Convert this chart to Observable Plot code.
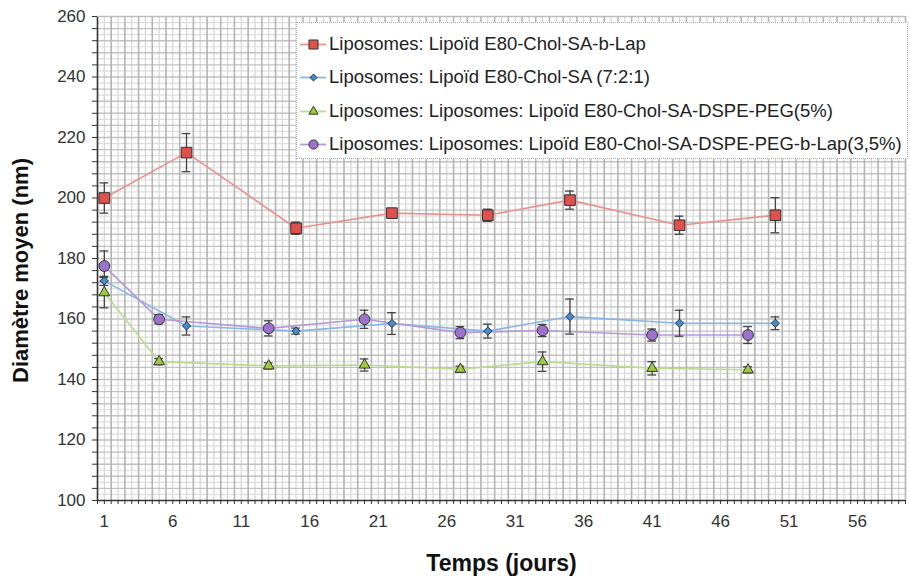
<!DOCTYPE html>
<html>
<head>
<meta charset="utf-8">
<script src="https://cdn.jsdelivr.net/npm/d3@7"></script>
<script src="https://cdn.jsdelivr.net/npm/@observablehq/plot@0.6"></script>
<style>
  body { margin: 0; background: #fff; }
  #wrap { position: relative; width: 909px; height: 580px; font-family: "Liberation Sans", Arial, sans-serif; }
  #wrap svg { font-family: "Liberation Sans", Arial, sans-serif; }
  g[aria-label="x-axis label"] text { font-weight: bold; font-size: 23px; fill: #111; font-family: "Liberation Sans Narrow", "Liberation Sans", Arial, sans-serif; }
  #legend { position: absolute; left: 296px; top: 22px; width: 612px; height: 137px; background: #fff;
            border: 1px dotted #aaa; box-sizing: border-box; padding-top: 4px; }
  .item { display: flex; align-items: center; height: 33.5px; font-size: 18.5px; color: #222; white-space: nowrap; }
  .item svg { margin-left: 3px; margin-right: 3px; }
</style>
</head>
<body>
<div id="wrap"><div id="legend"></div></div>
<script>
// ---- data ----
const joursA = [1, 7, 15, 22, 29, 35, 43, 50];
const joursB = [1, 5, 13, 20, 27, 33, 41, 48];

const redValues = [200, 215, 190, 195, 194.3, 199.3, 191, 194.3];
const redErr    = [5, 6.3, 2, 1, 2, 3, 3, 5.8];
const blueValues = [172.6, 157.7, 156, 158.5, 156, 160.8, 158.6, 158.6];
const blueErr    = [1.5, 3, 1, 3.6, 2.3, 5.8, 4.3, 2.1];
const greenValues = [168.7, 145.9, 144.5, 144.8, 143.4, 145.9, 143.7, 143.2];
const greenErr    = [5, 1, 1, 2, 1, 3.2, 2.2, 1];
const purpleValues = [177.5, 159.9, 156.9, 159.9, 155.5, 156.2, 154.7, 154.7];
const purpleErr    = [5, 1.5, 2.5, 3, 2, 2, 2, 2.8];

const seriesNames = [
  "Liposomes: Lipoïd E80-Chol-SA-b-Lap",
  "Liposomes: Lipoïd E80-Chol-SA (7:2:1)",
  "Liposomes: Liposomes: Lipoïd E80-Chol-SA-DSPE-PEG(5%)",
  "Liposomes: Liposomes: Lipoïd E80-Chol-SA-DSPE-PEG-b-Lap(3,5%)"
];

const xTickLabels = [1, 6, 11, 16, 21, 26, 31, 36, 41, 46, 51, 56];
const yTickLabels = [100, 120, 140, 160, 180, 200, 220, 240, 260];
const xTitle = "Temps (jours)";
const yTitle = "Diamètre moyen (nm)";

// ---- styles ----
const styles = [
  {fill: "#e0504c", line: "#e8918e", symbol: "square", r: 6.0},
  {fill: "#3f8fd8", line: "#86b6e6", symbol: "diamond2", r: 3.7},
  {fill: "#9dcc3a", line: "#bcdb8c", symbol: "triangle", r: 4.0},
  {fill: "#9c72cc", line: "#b59ad8", symbol: "circle", r: 5.4}
];

const seriesData = [
  {jours: joursA, values: redValues, errs: redErr},
  {jours: joursA, values: blueValues, errs: blueErr},
  {jours: joursB, values: greenValues, errs: greenErr},
  {jours: joursB, values: purpleValues, errs: purpleErr}
].map((s, i) => s.jours.map((j, k) => ({serie: seriesNames[i], x: j, y: s.values[k], e: s.errs[k]})));

// grid / tick positions
const xMajorGrid = d3.range(1.5, 60, 1);
const xMinorGrid = d3.range(1, 60, 1);
const xSmallTicks = d3.range(0.5, 59.6, 0.5);
const yMajorGrid = d3.range(104, 261, 4);
const yMinorGrid = d3.range(102, 260, 4);
const yMinorTicks = d3.range(100, 261, 4);

const marks = [
  Plot.gridX({ticks: xMinorGrid, stroke: "#d4d4d4", strokeOpacity: 1, strokeWidth: 1.2}),
  Plot.gridY({ticks: yMinorGrid, stroke: "#dedede", strokeOpacity: 1, strokeWidth: 1.2}),
  Plot.gridY({ticks: yMajorGrid, stroke: "#c2c2c2", strokeOpacity: 1, strokeWidth: 1.4}),
  Plot.gridX({ticks: xMajorGrid, stroke: "#b4b4b4", strokeOpacity: 1, strokeWidth: 1.6}),
];

seriesData.forEach((rows, i) => {
  const st = styles[i];
  marks.push(Plot.line(rows, {x: "x", y: "y", stroke: st.line, strokeWidth: 1.6}));
});
seriesData.forEach((rows, i) => {
  marks.push(Plot.ruleX(rows, {x: "x", y1: d => d.y - d.e, y2: d => d.y + d.e, stroke: "#444", strokeWidth: 1.3}));
  marks.push(Plot.ruleY(rows, {y: d => d.y - d.e, x1: d => d.x - 0.32, x2: d => d.x + 0.32, stroke: "#444", strokeWidth: 1.3}));
  marks.push(Plot.ruleY(rows, {y: d => d.y + d.e, x1: d => d.x - 0.32, x2: d => d.x + 0.32, stroke: "#444", strokeWidth: 1.3}));
});
seriesData.forEach((rows, i) => {
  const st = styles[i];
  marks.push(Plot.dot(rows, {x: "x", y: "y", symbol: () => st.symbol, r: st.r, fill: st.fill, stroke: "#333", strokeWidth: 1}));
});

marks.push(
  Plot.axisX({ticks: xSmallTicks, tickSize: 4, tickFormat: () => "", stroke: "#333", label: null}),
  Plot.axisX({ticks: xTickLabels, tickSize: 0, tickPadding: 14, fontSize: 17, fill: "#333",
              label: xTitle, labelAnchor: "center", labelArrow: "none", labelOffset: 70,
              tickFormat: d => String(d)}),
  Plot.axisY({ticks: yMinorTicks, tickSize: 5, tickFormat: () => "", stroke: "#333", label: null}),
  Plot.axisY({ticks: yTickLabels, tickSize: 0, tickPadding: 12, fontSize: 17, fill: "#333",
              label: null, tickFormat: d => String(d)}),
  Plot.text([yTitle], {text: d => d, frameAnchor: "left", textAnchor: "middle", rotate: -90, dx: -77, dy: 12,
              fontSize: 22, fontWeight: "bold", fill: "#111"}),
  Plot.ruleX([0.5], {stroke: "#333", strokeWidth: 1.6}),
  Plot.ruleY([100], {stroke: "#333", strokeWidth: 1.6}),
  Plot.ruleY([260], {stroke: "#bbb", strokeWidth: 1.2})
);

const chart = Plot.plot({
  width: 909,
  height: 580,
  marginLeft: 97,
  marginRight: 4,
  marginTop: 16,
  marginBottom: 80,
  x: {domain: [0.5, 59.5]},
  y: {domain: [100, 260]},
  style: {background: "#fff", overflow: "visible"},
  marks
});

const wrap = document.getElementById("wrap");
wrap.insertBefore(chart, wrap.firstChild);

// legend
const legend = document.getElementById("legend");
seriesNames.forEach((name, i) => {
  const st = styles[i];
  const item = document.createElement("div");
  item.className = "item";
  const key = Plot.plot({
    width: 26, height: 14, margin: 0,
    x: {domain: [0, 1], axis: null}, y: {domain: [0, 1], axis: null},
    style: {background: "transparent", overflow: "visible"},
    marks: [
      Plot.ruleY([0.5], {x1: 0, x2: 1, stroke: st.line, strokeWidth: 1.8}),
      Plot.dot([0.5], {x: d => d, y: d => d, symbol: () => st.symbol, r: st.r * 0.85, fill: st.fill, stroke: "#333", strokeWidth: 1})
    ]
  });
  item.appendChild(key);
  const t = document.createElement("span");
  t.textContent = name;
  item.appendChild(t);
  legend.appendChild(item);
});
</script>
</body>
</html>
